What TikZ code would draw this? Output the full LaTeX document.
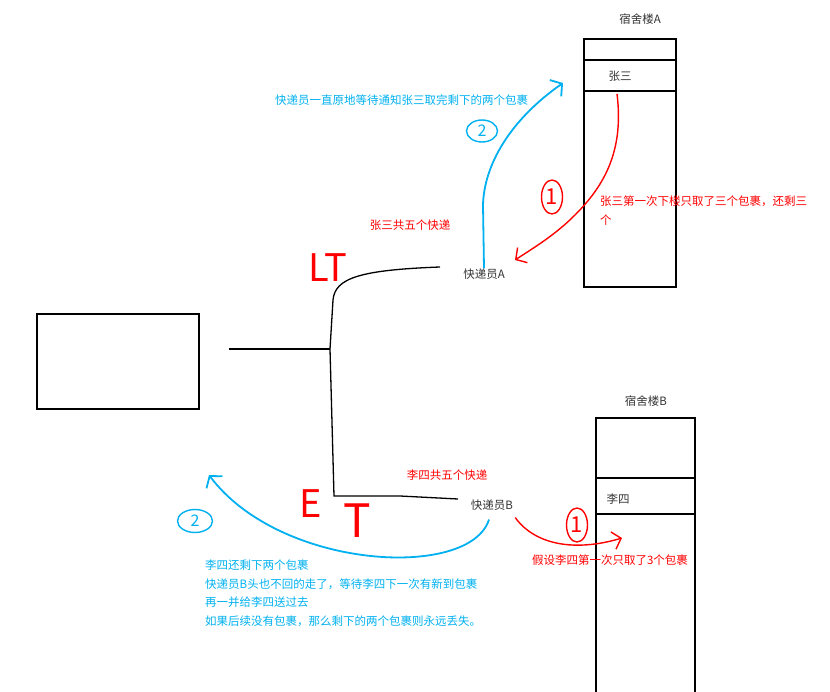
\documentclass[tikz,border=0pt]{standalone}
\usepackage{fontspec}
\newfontfamily\cjk{Noto Sans CJK SC}
\usetikzlibrary{arrows.meta,shapes.geometric}
\definecolor{sky}{RGB}{0,176,240}
\definecolor{hred}{RGB}{255,0,0}
\definecolor{ink}{RGB}{51,51,51}

\begin{document}
\begin{tikzpicture}[x=1pt,y=-1pt,
  txt/.style={font=\cjk\fontsize{11.5}{18.5}\selectfont,inner sep=0pt},
  note/.style={txt,text=hred},
  tip/.style={txt,text=sky},
  big/.style={font=\cjk\fontsize{38}{38}\selectfont,text=hred,inner sep=0pt},
  wall/.style={draw,line width=1.8pt,inner sep=0pt},
  wire/.style={line width=1.3pt},
  num/.style={ellipse,draw,line width=1.4pt,inner sep=0pt,font=\cjk\fontsize{16}{16}\selectfont},
  bluearrow/.style={sky,line width=1.8pt,-{Straight Barb[length=8pt,width=20pt]}},
  redarrow/.style={hred,line width=1.4pt,-{Straight Barb[length=8pt,width=18pt]}}]
\useasboundingbox (0,0) rectangle (830,692);
% server and lines
\node[wall,minimum width=162pt,minimum height=95pt] (srv) at (118,361.5) {};
\coordinate (stem) at (229,349);
\coordinate (jct) at (330,349);
\coordinate (endA) at (440,267);
\coordinate (endB) at (458,499);
\draw[wire] (stem) -- (jct);
\draw[wire] (jct) -- (333,300) .. controls (335,278) and (360,270) .. (endA);
\draw[wire] (jct) -- (334,496) -- (400,496) -- (endB);
\node[big] (lt) at (328,268) {LT};
\node[big] (e) at (311,504) {E};
\node[big,font=\cjk\fontsize{46}{46}\selectfont] (t) at (357,521) {T};
\node[txt,text=ink] (courA) at (484,274) {快递员A};
\node[txt,text=ink] (courB) at (492,505) {快递员B};
% dorm A
\node[txt,text=ink] (titleA) at (640,19) {宿舍楼A};
\node[wall,minimum width=92pt,minimum height=248pt] (dormA) at (630,163) {};
\node[wall,minimum width=92pt,minimum height=31pt] (roomA) at (630,75.5) {};
\node[txt,text=ink] (zhang) at (620,76) {张三};
% dorm B
\node[txt,text=ink] (titleB) at (646,401) {宿舍楼B};
\draw[line width=1.8pt] (596,700) -- (596,418) -- (695,418) -- (695,700);
\node[wall,minimum width=99pt,minimum height=36pt] (roomB) at (645.5,496) {};
\node[txt,text=ink] (lisi) at (618,499) {李四};
% notes
\node[note] (fiveA) at (410,225) {张三共五个快递};
\node[note] (fiveB) at (447,475) {李四共五个快递};
\node[note,anchor=north west,align=left] (takeA) at (600,196) {张三第一次下楼只取了三个包裹，还剩三\\个};
\node[note] (takeB) at (610,560) {假设李四第一次只取了3个包裹};
\node[tip] (waitA) at (401.5,100) {快递员一直原地等待通知张三取完剩下的两个包裹};
\node[tip,anchor=north west,align=left] (leftB) at (205,560) {李四还剩下两个包裹\\快递员B头也不回的走了，等待李四下一次有新到包裹\\再一并给李四送过去\\如果后续没有包裹，那么剩下的两个包裹则永远丢失。};
% steps
\node[num,sky,minimum width=31pt,minimum height=22pt] (twoA) at (482,131) {2};
\node[num,hred,minimum width=21pt,minimum height=34pt,font=\cjk\fontsize{22}{22}\selectfont] (oneA) at (552,197) {1};
\node[num,hred,minimum width=21pt,minimum height=34pt,font=\cjk\fontsize{22}{22}\selectfont] (oneB) at (577,525) {1};
\node[num,sky,minimum width=35pt,minimum height=23pt] (twoB) at (195,521) {2};
% arrows
\coordinate (upA) at (563,83);
\coordinate (backA) at (515,260);
\coordinate (inB) at (622,538);
\coordinate (upB) at (209,475);
\draw[bluearrow] (courA.north) -- (483,205) .. controls (484,165) and (510,120) .. (upA);
\draw[redarrow] ([xshift=-13pt,yshift=-2pt]roomA.south) .. controls (624,150) and (605,185) .. (575,215) .. controls (555,235) and (535,247) .. (backA);
\draw[redarrow] ([xshift=2pt,yshift=-7pt]courB.south east) .. controls (535,545) and (575,552) .. (inB);
\draw[bluearrow] ([xshift=-3pt,yshift=-9pt]courB.south) .. controls (470,580) and (280,570) .. (upB);
\end{tikzpicture}
\end{document}
